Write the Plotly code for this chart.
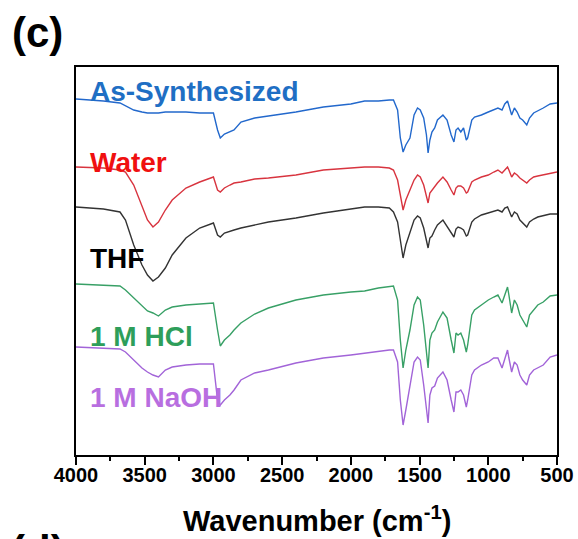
import plotly.graph_objects as go

wavenumber = [4000, 3800, 3680, 3640, 3580, 3520, 3480, 3440, 3400, 3350, 3300, 3200, 3100, 3000,
              2970, 2950, 2920, 2880, 2850, 2800, 2700, 2600, 2400, 2200, 2000, 1900, 1800, 1720,
              1690, 1660, 1640, 1620, 1600, 1570, 1540, 1515, 1495, 1470, 1450, 1438, 1425, 1410,
              1390, 1370, 1330, 1300, 1270, 1250, 1235, 1220, 1200, 1180, 1160, 1150, 1120, 1100,
              1050, 1000, 960, 930, 900, 880, 860, 850, 830, 810, 790, 770, 750, 720, 700, 670,
              640, 600, 550, 500]

# offset signal (a.u., larger = lower on the plot, i.e. stronger absorption)
as_synthesized = [99, 101, 103, 106, 110, 112, 113, 113, 113, 112, 112, 112, 113, 113,
                  130, 138, 134, 132, 130, 122, 118, 116, 112, 107, 104, 101, 101, 100,
                  100, 110, 138, 152, 145, 138, 115, 108, 110, 118, 135, 153, 140, 132,
                  128, 120, 115, 120, 135, 142, 130, 128, 132, 128, 140, 138, 120, 117,
                  115, 112, 110, 108, 110, 104, 101, 105, 115, 108, 112, 118, 120, 125, 118, 113,
                  111, 108, 104, 103]
water = [167, 168, 170, 172, 185, 205, 220, 227, 222, 210, 200, 188, 182, 177,
         190, 192, 188, 185, 183, 182, 179, 178, 175, 170, 168, 167, 167, 168,
         170, 180, 195, 210, 200, 190, 180, 175, 177, 185, 198, 203, 193, 190,
         187, 183, 177, 182, 190, 195, 188, 186, 186, 188, 193, 192, 182, 180,
         177, 175, 172, 170, 173, 170, 167, 170, 177, 173, 175, 178, 180, 183, 180, 177,
         176, 175, 173, 172]
thf = [207, 209, 212, 220, 245, 265, 275, 281, 277, 268, 255, 238, 228, 223,
       235, 237, 233, 231, 230, 228, 225, 222, 218, 213, 209, 207, 207, 208,
       212, 222, 240, 258, 245, 232, 220, 216, 218, 228, 242, 248, 238, 236,
       230, 225, 220, 226, 233, 237, 229, 227, 228, 230, 236, 235, 222, 219,
       215, 213, 211, 210, 212, 208, 207, 210, 217, 212, 214, 220, 223, 227, 222, 219,
       217, 216, 214, 214]
hcl = [284, 285, 286, 290, 298, 306, 311, 313, 316, 310, 307, 305, 304, 303,
       330, 346, 340, 335, 330, 323, 314, 308, 300, 295, 292, 291, 288, 286,
       286, 300, 340, 368, 350, 330, 305, 297, 300, 325, 355, 368, 340, 333,
       330, 322, 312, 318, 340, 353, 333, 335, 333, 340, 352, 345, 315, 310,
       305, 300, 297, 295, 303, 295, 287, 295, 313, 300, 305, 315, 320, 327, 315, 310,
       305, 302, 296, 295]
naoh = [347, 348, 349, 352, 360, 368, 372, 375, 377, 370, 367, 365, 364, 364,
        400, 405, 400, 395, 390, 380, 373, 370, 363, 358, 355, 353, 351, 350,
        350, 362, 400, 425, 410, 385, 362, 357, 360, 385, 410, 423, 395, 388,
        386, 378, 372, 380, 400, 412, 392, 392, 390, 395, 407, 400, 375, 370,
        365, 362, 358, 358, 368, 358, 350, 358, 372, 362, 365, 375, 380, 385, 375, 370,
        368, 365, 357, 355]

series = [
    ("As-Synthesized", as_synthesized, "#2268cc", "#1f6fc4", 91),
    ("Water", water, "#d8343f", "#f01010", 162),
    ("THF", thf, "#333333", "#000000", 258),
    ("1 M HCl", hcl, "#38a066", "#2e9e5a", 336),
    ("1 M NaOH", naoh, "#a264d8", "#b86ee0", 397),
]

FONT = "Arial, Liberation Sans, sans-serif"
fig = go.Figure()
annotations = []
for name, vals, lc, tc, ly in series:
    fig.add_trace(go.Scatter(x=wavenumber, y=vals, mode="lines", name=name,
                             line=dict(color=lc, width=1.4), showlegend=False))
    annotations.append(dict(x=3910, y=ly, xref="x", yref="y", text="<b>%s</b>" % name,
                            showarrow=False, xanchor="left", yanchor="middle",
                            font=dict(family=FONT, size=28, color=tc)))

annotations.append(dict(xref="paper", yref="paper", x=-0.08, y=1.09,
                        xanchor="center", yanchor="middle", text="<b>(c)</b>",
                        showarrow=False, font=dict(family=FONT, size=42, color="black")))
annotations.append(dict(xref="paper", yref="paper", x=-0.08, y=-0.18, xanchor="center",
                        yanchor="top", text="<b>(d)</b>", showarrow=False,
                        font=dict(family=FONT, size=42, color="black")))
annotations.append(dict(xref="paper", yref="paper", x=0.5, y=-0.165, xanchor="center",
                        yanchor="middle", text="<b>Wavenumber (cm<sup>-1</sup>)</b>", showarrow=False,
                        font=dict(family=FONT, size=29, color="black")))

fig.update_layout(
    width=578, height=539,
    margin=dict(l=76, r=21, t=67, b=84, autoexpand=False),
    paper_bgcolor="white", plot_bgcolor="white",
    font=dict(family=FONT, color="black"),
    annotations=annotations,
)

fig.update_xaxes(range=[4000, 500], dtick=500, tick0=500, showgrid=False, zeroline=False,
                 automargin=False,
                 showline=True, linecolor="black", linewidth=1.5, mirror=True,
                 ticks="outside", ticklen=8, tickwidth=1.5, tickcolor="black",
                 ticklabelstandoff=-7,
                 tickfont=dict(family=FONT, size=20, color="black"),
                 tickprefix="<b>", ticksuffix="</b>",
                 minor=dict(dtick=250, ticks="outside", ticklen=4, tickwidth=1.5, tickcolor="black"))
fig.update_yaxes(range=[455, 67], showgrid=False, zeroline=False, showticklabels=False,
                 automargin=False,
                 showline=True, linecolor="black", linewidth=1.5, mirror=True, ticks="")

fig.write_html("out.html")
